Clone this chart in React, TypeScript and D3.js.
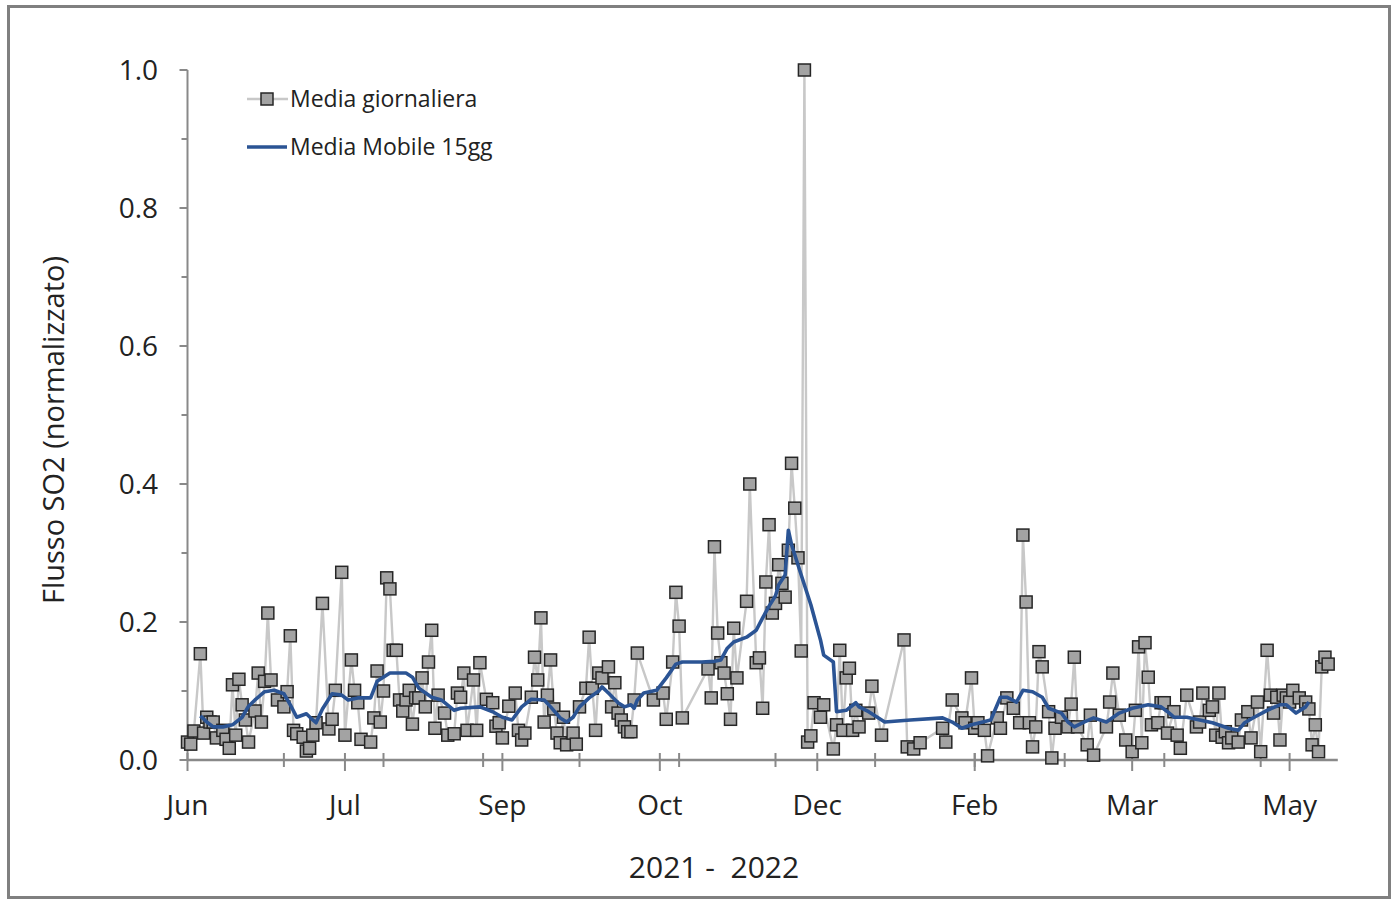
import React from "react";
import * as d3 from "d3";

// ---- data (day offsets from 1 Jun 2021) ----
const START = Date.UTC(2021, 5, 1);
const END_DAY = 358;

const dailyDays = [0,1,2,4,5,6,7,8,9,11,12,13,14,15,16,17,18,19,21,22,23,24,25,26,28,30,31,32,33,34,36,37,38,39,40,42,44,45,46,48,49,51,52,53,54,57,58,59,60,61,62,63,64,65,66,67,68,69,70,71,72,73,74,75,76,77,78,80,81,83,84,85,86,87,89,90,91,93,95,96,97,98,100,102,103,104,105,107,108,109,110,111,112,113,114,115,116,117,118,120,121,122,124,125,126,127,128,129,131,132,133,134,135,136,137,138,139,140,145,148,149,151,152,153,154,162,163,164,165,166,167,168,169,170,171,174,175,177,178,179,180,181,182,183,184,185,186,187,188,189,190,191,192,193,194,195,197,198,201,202,203,204,205,206,207,208,209,212,213,216,223,224,226,228,235,236,238,241,242,244,245,246,248,249,252,253,255,257,259,260,261,262,263,264,265,266,268,269,270,272,274,275,276,277,280,281,282,286,287,288,290,292,294,295,296,297,298,299,300,302,303,304,305,307,308,309,311,314,315,316,318,319,320,321,322,323,324,325,327,328,330,331,333,334,336,337,338,339,340,341,342,343,344,346,348,349,350,351,352,353,354,355];

const dailyValues = [0.026,0.023,0.042,0.154,0.039,0.062,0.055,0.055,0.032,0.043,0.030,0.017,0.109,0.036,0.117,0.080,0.058,0.026,0.071,0.126,0.055,0.114,0.213,0.116,0.087,0.077,0.099,0.180,0.043,0.038,0.033,0.013,0.017,0.036,0.054,0.227,0.045,0.059,0.101,0.272,0.036,0.145,0.101,0.083,0.030,0.026,0.061,0.129,0.055,0.100,0.264,0.248,0.159,0.159,0.087,0.071,0.087,0.101,0.052,0.090,0.090,0.119,0.077,0.142,0.188,0.046,0.094,0.068,0.036,0.038,0.097,0.091,0.126,0.043,0.116,0.043,0.141,0.088,0.083,0.049,0.054,0.032,0.078,0.097,0.043,0.029,0.039,0.091,0.149,0.116,0.206,0.055,0.094,0.145,0.074,0.039,0.025,0.062,0.022,0.039,0.023,0.077,0.104,0.178,0.104,0.043,0.126,0.119,0.135,0.077,0.112,0.068,0.058,0.048,0.041,0.041,0.087,0.155,0.087,0.097,0.059,0.142,0.243,0.194,0.061,0.132,0.090,0.309,0.184,0.141,0.126,0.096,0.059,0.191,0.119,0.230,0.400,0.141,0.148,0.075,0.258,0.341,0.213,0.227,0.283,0.256,0.236,0.304,0.430,0.365,0.293,0.158,1.000,0.026,0.035,0.083,0.062,0.080,0.016,0.051,0.159,0.043,0.119,0.133,0.043,0.072,0.048,0.068,0.107,0.036,0.174,0.019,0.016,0.025,0.046,0.026,0.087,0.061,0.054,0.119,0.046,0.054,0.043,0.006,0.061,0.046,0.090,0.075,0.054,0.326,0.229,0.054,0.019,0.048,0.157,0.135,0.070,0.003,0.046,0.062,0.048,0.081,0.149,0.048,0.022,0.065,0.007,0.048,0.084,0.126,0.065,0.029,0.012,0.072,0.164,0.025,0.170,0.120,0.051,0.054,0.083,0.083,0.039,0.070,0.036,0.017,0.094,0.048,0.055,0.097,0.072,0.077,0.036,0.097,0.033,0.041,0.025,0.032,0.026,0.058,0.070,0.032,0.084,0.012,0.159,0.094,0.068,0.091,0.029,0.094,0.090,0.084,0.101,0.090,0.084,0.074,0.022,0.051,0.012,0.135,0.149,0.139];

const movingDays = [4,6,8,11,14,17,19,21,24,27,30,32,34,37,39,40,42,45,48,50,53,57,59,63,68,70,72,76,79,83,85,91,95,98,101,104,107,111,113,116,118,120,122,125,128,129,131,134,136,138,139,140,142,146,149,152,154,160,164,166,168,170,174,177,179,181,183,184,186,187,188,191,194,197,198,201,202,205,208,209,212,217,225,235,238,241,244,250,253,255,258,260,263,266,268,272,274,276,279,282,286,290,294,299,303,305,307,311,315,319,324,327,329,332,336,340,342,345,348,349];

const movingValues = [0.064,0.055,0.048,0.048,0.051,0.062,0.078,0.087,0.099,0.101,0.096,0.080,0.062,0.067,0.058,0.054,0.074,0.096,0.094,0.087,0.090,0.090,0.114,0.126,0.126,0.120,0.104,0.091,0.087,0.072,0.075,0.077,0.070,0.062,0.058,0.077,0.088,0.087,0.077,0.061,0.055,0.062,0.077,0.090,0.100,0.106,0.097,0.083,0.077,0.080,0.075,0.087,0.097,0.101,0.119,0.139,0.142,0.142,0.143,0.145,0.162,0.171,0.178,0.188,0.206,0.223,0.238,0.254,0.268,0.333,0.312,0.268,0.225,0.174,0.152,0.142,0.070,0.072,0.083,0.077,0.070,0.055,0.058,0.061,0.055,0.046,0.051,0.058,0.091,0.091,0.084,0.101,0.099,0.091,0.075,0.068,0.055,0.048,0.055,0.061,0.055,0.068,0.075,0.080,0.077,0.070,0.062,0.062,0.058,0.054,0.046,0.043,0.054,0.062,0.072,0.080,0.080,0.068,0.077,0.084];

const majorTickDays = [0, 49, 98, 147, 196, 245, 294, 343];
const majorTickLabels = ["Jun", "Jul", "Sep", "Oct", "Dec", "Feb", "Mar", "May"];
const yTicks = [0, 0.2, 0.4, 0.6, 0.8, 1.0];
const yMinorTicks = [0.1, 0.3, 0.5, 0.7, 0.9];

const seriesNames = ["Media giornaliera", "Media Mobile 15gg"];
const yTitle = "Flusso SO2 (normalizzato)";
const xTitle = "2021 -  2022";

const toDate = (d: number) => new Date(START + d * 864e5);

export default function App() {
  const W = 1397, H = 906;
  const left = 187.5, right = 1337.8, bottom = 760, top = 70;
  const x = d3.scaleUtc().domain([toDate(0), toDate(END_DAY)]).range([left, right]);
  const y = d3.scaleLinear().domain([0, 1]).range([bottom, top]);

  const daily = dailyDays.map((d, i) => ({ date: toDate(d), v: dailyValues[i] }));
  const moving = movingDays.map((d, i) => ({ date: toDate(d), v: movingValues[i] }));
  const line = d3.line<{ date: Date; v: number }>().x((p) => x(p.date)).y((p) => y(p.v));

  const minorTicks = d3.utcMonth.range(toDate(1), toDate(END_DAY));
  const font = "'Open Sans', sans-serif";
  const axisColor = "#898989";
  const textColor = "#222222";
  const sq = 12;
  const mFill = "#a3a3a3";
  const mStroke = "#262626";
  const blue = "#2b5494";

  return (
    <svg width={W} height={H} style={{ position: "absolute", left: 0, top: 0, background: "#fff" }}>
      <rect x={0} y={0} width={W} height={H} fill="#fff" />
      <rect x={8.5} y={6.5} width={1381} height={891} fill="none" stroke="#808080" strokeWidth={3} />

      {/* y axis */}
      <line x1={left} x2={left} y1={top} y2={bottom} stroke={axisColor} strokeWidth={2} />
      {yTicks.map((t) => (
        <g key={"y" + t}>
          <line x1={left - 8} x2={left} y1={y(t)} y2={y(t)} stroke={axisColor} strokeWidth={2} />
          <text x={158} y={y(t)} dy="0.36em" textAnchor="end" fontFamily={font} fontSize={28} fill={textColor}>
            {t.toFixed(1)}
          </text>
        </g>
      ))}
      {yMinorTicks.map((t) => (
        <line key={"ym" + t} x1={left - 6} x2={left} y1={y(t)} y2={y(t)} stroke={axisColor} strokeWidth={2} />
      ))}

      {/* x axis */}
      <line x1={left} x2={right} y1={bottom} y2={bottom} stroke={axisColor} strokeWidth={2.5} />
      {minorTicks.map((d, i) => (
        <line key={"xm" + i} x1={x(d)} x2={x(d)} y1={bottom - 7} y2={bottom + 7} stroke={axisColor} strokeWidth={2} />
      ))}
      {majorTickDays.map((d, i) => (
        <g key={"xt" + i}>
          <line x1={x(toDate(d))} x2={x(toDate(d))} y1={bottom - 7} y2={bottom + 11} stroke={axisColor} strokeWidth={2} />
          <text x={x(toDate(d))} y={815} textAnchor="middle" fontFamily={font} fontSize={28} fill={textColor}>
            {majorTickLabels[i]}
          </text>
        </g>
      ))}

      {/* titles */}
      <text transform="translate(52,430) rotate(-90)" textAnchor="middle" dominantBaseline="central" fontFamily={font} fontSize={29} fill={textColor}>
        {yTitle}
      </text>
      <text x={714} y={878} textAnchor="middle" fontFamily={font} fontSize={30} fill={textColor} style={{ whiteSpace: "pre" }}>
        {xTitle}
      </text>

      {/* daily series */}
      <path d={line(daily) || ""} fill="none" stroke="#c8c8c8" strokeWidth={2.4} />
      {daily.map((p, i) => (
        <rect key={"p" + i} x={x(p.date) - sq / 2} y={y(p.v) - sq / 2} width={sq} height={sq}
          fill={mFill} stroke={mStroke} strokeWidth={1.5} />
      ))}

      {/* moving average */}
      <path d={line(moving) || ""} fill="none" stroke={blue} strokeWidth={3.6} strokeLinejoin="round" />

      {/* legend */}
      <line x1={247} x2={288} y1={99} y2={99} stroke="#c8c8c8" strokeWidth={2.4} />
      <rect x={267 - sq / 2} y={99 - sq / 2} width={sq} height={sq} fill={mFill} stroke={mStroke} strokeWidth={1.5} />
      <text x={290} y={99} dy="0.36em" fontFamily={font} fontSize={23} fill={textColor}>{seriesNames[0]}</text>
      <line x1={247} x2={287} y1={147} y2={147} stroke={blue} strokeWidth={3.6} />
      <text x={290} y={147} dy="0.36em" fontFamily={font} fontSize={23} fill={textColor}>{seriesNames[1]}</text>
    </svg>
  );
}
